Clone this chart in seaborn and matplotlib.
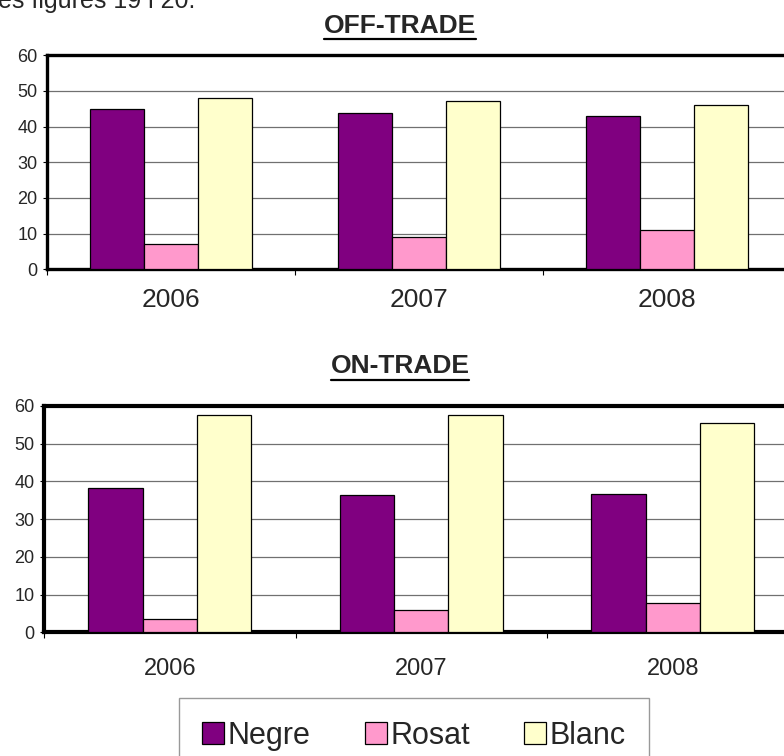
import matplotlib
matplotlib.use("Agg")
import matplotlib.pyplot as plt
from matplotlib.patches import Patch
from matplotlib.lines import Line2D
import seaborn as sns
import pandas as pd

years = ["2006", "2007", "2008"]
types = ["Negre", "Rosat", "Blanc"]
off_negre = [45.0, 43.7, 43.0]
off_rosat = [7.0, 9.0, 11.0]
off_blanc = [48.0, 47.2, 46.2]
on_negre = [38.2, 36.4, 36.8]
on_rosat = [3.6, 5.8, 7.8]
on_blanc = [57.7, 57.7, 55.4]
colors = ["#800080", "#FF99CC", "#FFFFCC"]
yticks = [0, 10, 20, 30, 40, 50, 60]


def make_df(negre, rosat, blanc):
    rows = []
    for t, vals in zip(types, [negre, rosat, blanc]):
        for y, v in zip(years, vals):
            rows.append({"year": y, "type": t, "value": v})
    return pd.DataFrame(rows)


sns.set_style("white")
plt.rcParams["font.family"] = ["Liberation Sans", "DejaVu Sans"]

W, H = 784, 756
fig = plt.figure(figsize=(W / 100, H / 100), dpi=100)


def px_axes(left, top, right, bottom):
    return fig.add_axes([left / W, 1 - bottom / H, (right - left) / W, (bottom - top) / H])


ax1 = px_axes(47, 55.3, 791, 269.3)
ax2 = px_axes(44, 406, 798.5, 632.3)


def style(ax, df, xfs, xpad, spw):
    sns.barplot(data=df, x="year", y="value", hue="type", hue_order=types,
                palette=colors, saturation=1, width=0.65, edgecolor="black",
                linewidth=0.9, ax=ax, legend=False, zorder=3, errorbar=None)
    ax.set_xlim(-0.5, 2.5)
    ax.set_ylim(0, 60)
    ax.set_yticks(yticks)
    ax.set_yticklabels([str(v) for v in yticks], fontsize=13)
    ax.yaxis.grid(True, color="#707070", linewidth=0.9, zorder=0)
    ax.xaxis.grid(False)
    ax.set_axisbelow(True)
    ax.set_xlabel("")
    ax.set_ylabel("")
    ax.tick_params(axis="y", left=True, length=3, width=0.8, pad=4, color="black")
    ax.set_xticks([0, 1, 2])
    ax.set_xticklabels(years, fontsize=xfs)
    ax.tick_params(axis="x", which="major", length=0, pad=xpad)
    ax.set_xticks([-0.5, 0.5, 1.5], minor=True)
    ax.tick_params(axis="x", which="minor", bottom=True, length=4, width=0.8, color="black")
    for s in ["top", "left", "bottom"]:
        ax.spines[s].set_visible(True)
        ax.spines[s].set_color("black")
        ax.spines[s].set_linewidth(spw)
    ax.spines["right"].set_visible(False)
    ax.patch.set_facecolor("white")


style(ax1, make_df(off_negre, off_rosat, off_blanc), 19, 13.5, 2.4)
style(ax2, make_df(on_negre, on_rosat, on_blanc), 17, 18.5, 3.0)

fig.text(-2 / W, 1 - 8 / H, "es figures 19 i 20.", fontsize=18, va="baseline", ha="left")

t1 = fig.text(400 / W, 1 - 33 / H, "OFF-TRADE", fontsize=19, fontweight="bold",
              ha="center", va="baseline")
t2 = fig.text(400 / W, 1 - 373 / H, "ON-TRADE", fontsize=19, fontweight="bold",
              ha="center", va="baseline")

fig.canvas.draw()
r = fig.canvas.get_renderer()
for t, uy in [(t1, 38.5), (t2, 379.5)]:
    bb = t.get_window_extent(renderer=r)
    fig.add_artist(Line2D([bb.x0 / W, bb.x1 / W], [1 - uy / H, 1 - uy / H],
                          transform=fig.transFigure, color="black", linewidth=1.6))

handles = [Patch(facecolor=c, edgecolor="black", linewidth=0.9, label=t)
           for c, t in zip(colors, types)]
leg = fig.legend(handles=handles, loc="upper left",
                 bbox_to_anchor=(179 / W, 0, 470 / W, 1 - 698 / H), mode="expand",
                 ncol=3, fontsize=22, frameon=True, fancybox=False, borderaxespad=0,
                 handlelength=0.72, handleheight=0.72, handletextpad=0.12,
                 columnspacing=1.7, borderpad=0.75)
leg.get_frame().set_edgecolor("#808080")
leg.get_frame().set_linewidth(1.0)

fig.savefig("out.png", dpi=100, facecolor="white")
